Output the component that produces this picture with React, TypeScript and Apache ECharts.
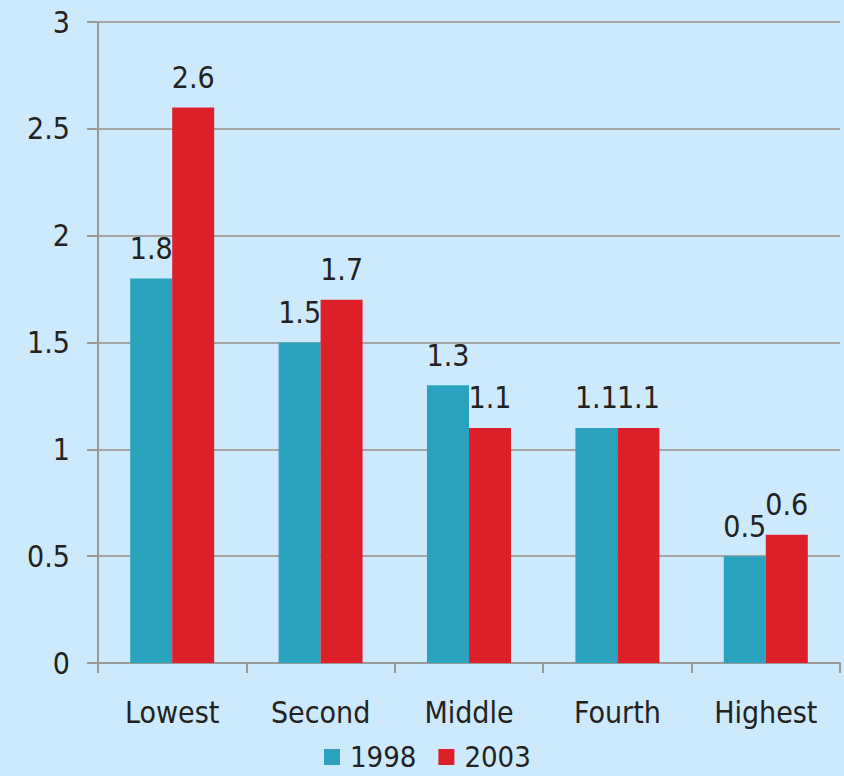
import React, { useEffect, useRef } from "react";
import * as echarts from "echarts";

const categories = ["Lowest", "Second", "Middle", "Fourth", "Highest"];
const series1998 = [1.8, 1.5, 1.3, 1.1, 0.5];
const series2003 = [2.6, 1.7, 1.1, 1.1, 0.6];
const seriesNames = ["1998", "2003"];

const FONT = "'DejaVu Sans Condensed', 'DejaVu Sans', sans-serif";

export default function App() {
  const ref = useRef<HTMLDivElement>(null);
  useEffect(() => {
    document.body.style.margin = "0";
    const chart = echarts.init(ref.current!, null, { renderer: "svg" });
    const labelStyle = {
      show: true,
      position: "top",
      distance: 15,
      color: "#222",
      fontSize: 30,
      fontFamily: FONT,
    };
    chart.setOption({
      animation: false,
      backgroundColor: "#cdeafd",
      textStyle: { fontFamily: FONT },
      grid: { left: 98, right: 4, top: 22, bottom: 113, containLabel: false },
      legend: {
        data: seriesNames,
        bottom: 4,
        left: 324,
        padding: 0,
        itemWidth: 16,
        itemHeight: 16,
        itemGap: 22,
        icon: "rect",
        textStyle: { fontSize: 29, lineHeight: 30, color: "#222", fontFamily: FONT, padding: [0, 0, 0, 5] },
      },
      xAxis: {
        type: "category",
        data: categories,
        axisLine: { show: true, lineStyle: { color: "#9a9a9a", width: 2 } },
        axisTick: { show: true, length: 10, lineStyle: { color: "#9a9a9a", width: 2 } },
        axisLabel: { color: "#222", fontSize: 30, margin: 34, fontFamily: FONT },
      },
      yAxis: {
        type: "value",
        min: 0,
        max: 3,
        interval: 0.5,
        axisLine: { show: true, lineStyle: { color: "#9a9a9a", width: 2 } },
        axisTick: { show: true, length: 11, lineStyle: { color: "#9a9a9a", width: 2 } },
        splitLine: { show: true, lineStyle: { color: "#a4a4a4", width: 2 } },
        axisLabel: { color: "#222", fontSize: 30, margin: 28, fontFamily: FONT },
      },
      series: [
        {
          name: seriesNames[0],
          type: "bar",
          data: series1998,
          barWidth: 42,
          barGap: "0%",
          itemStyle: { color: "#2ba3bf" },
          label: labelStyle,
        },
        {
          name: seriesNames[1],
          type: "bar",
          data: series2003,
          barWidth: 42,
          barGap: "0%",
          itemStyle: { color: "#dc1f28" },
          label: labelStyle,
        },
      ],
    });
    return () => chart.dispose();
  }, []);
  return <div ref={ref} style={{ width: 844, height: 776 }} />;
}
